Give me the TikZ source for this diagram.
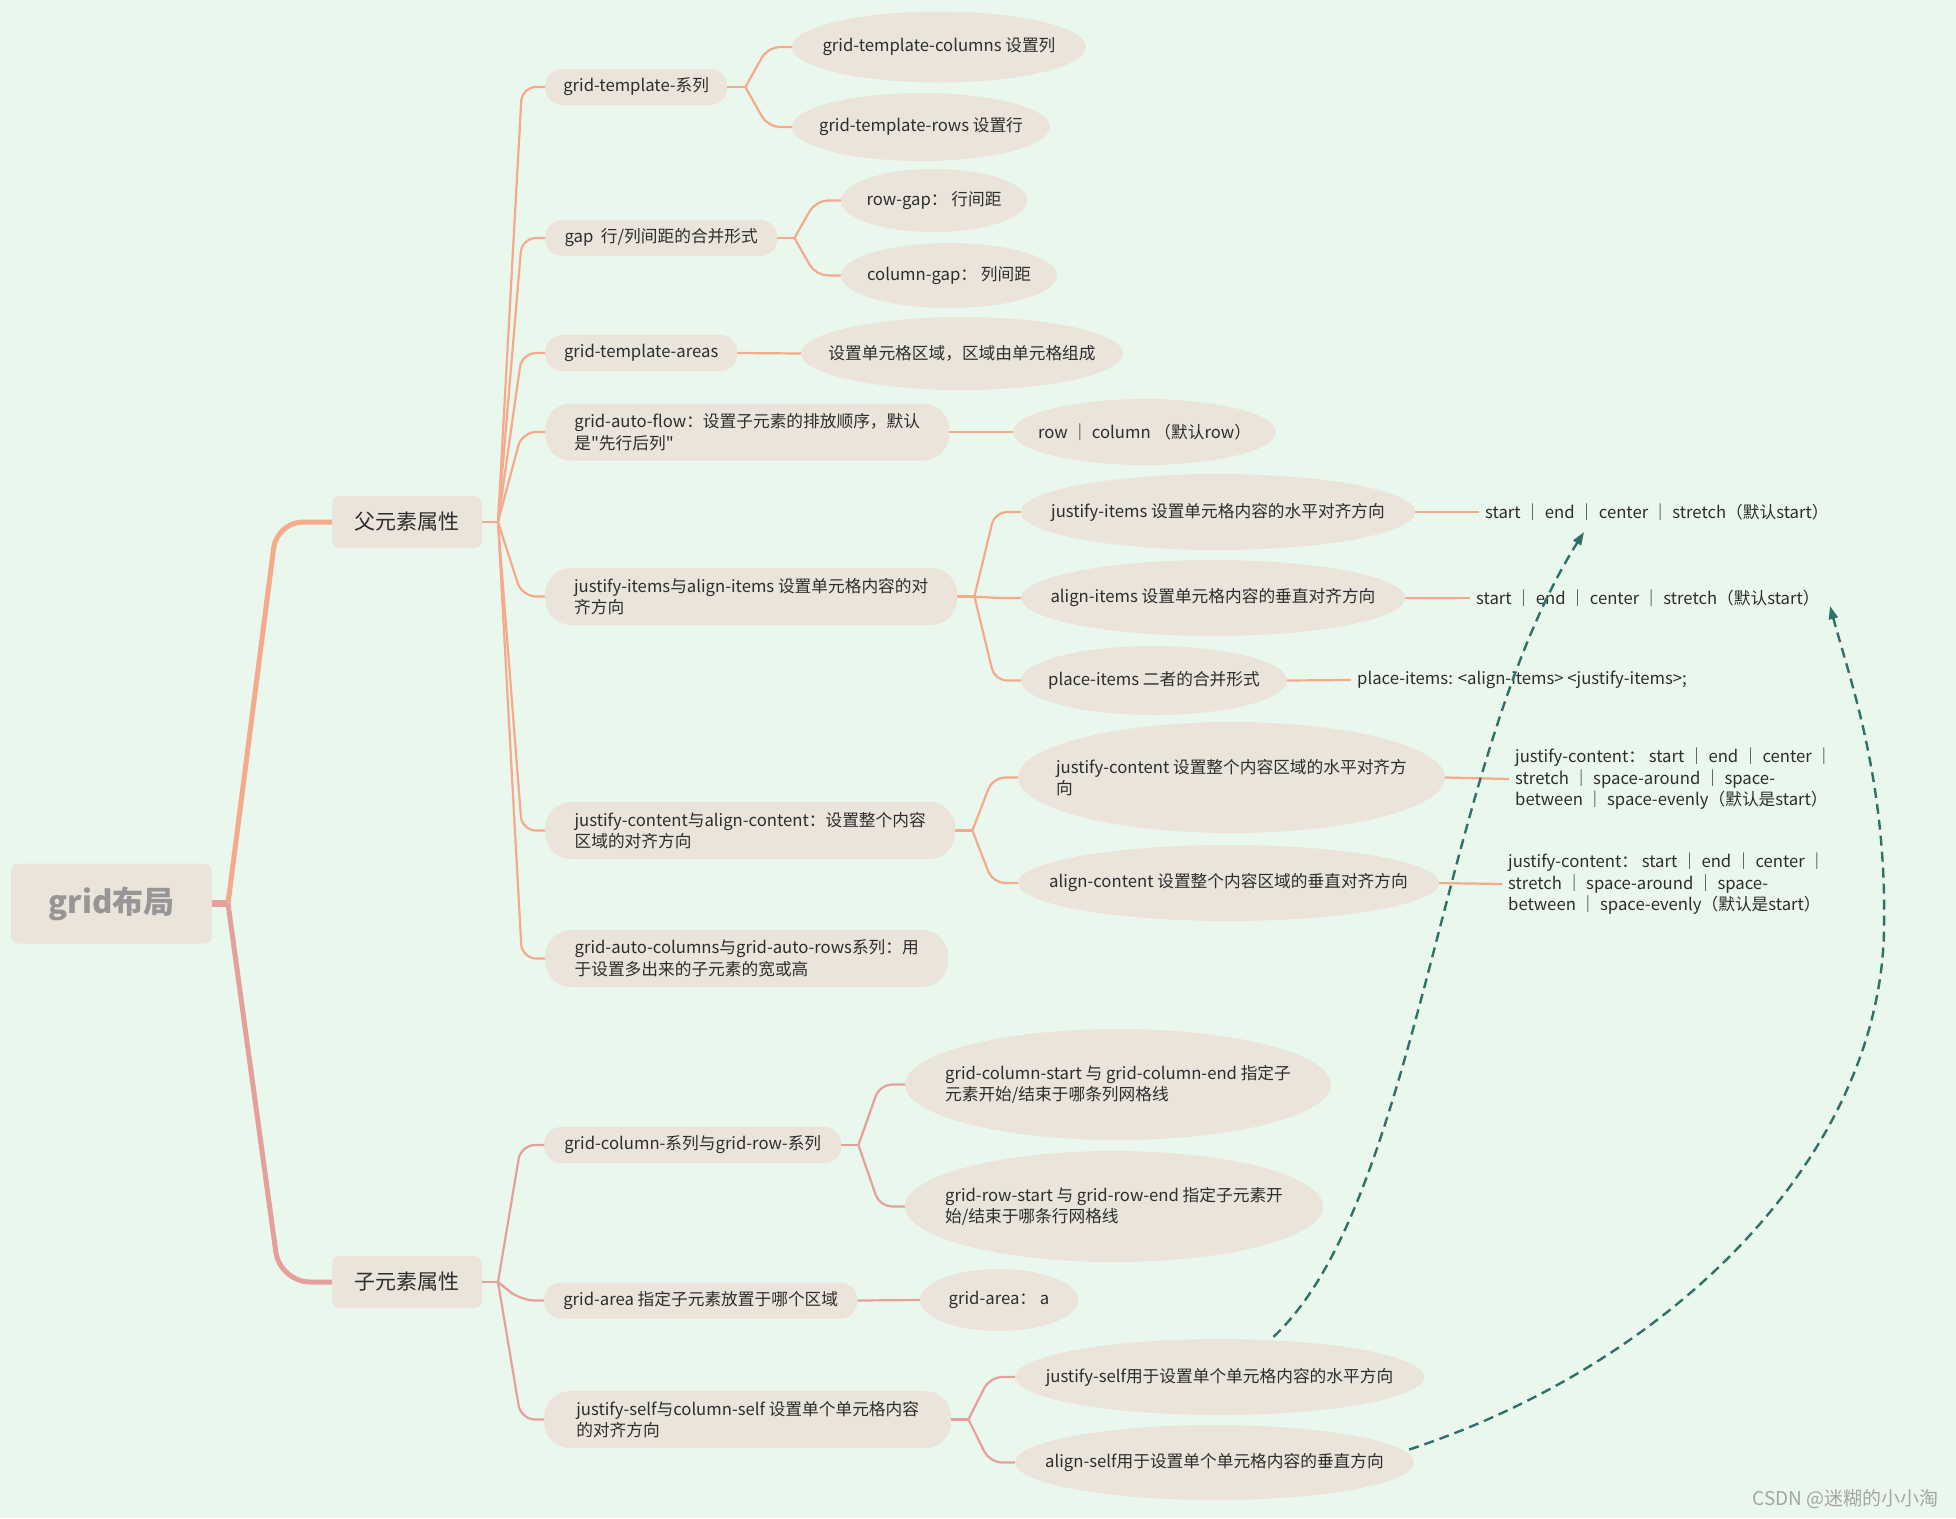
\documentclass[tikz,border=0pt]{standalone}
\usepackage{fontspec}
\setmainfont{Noto Sans CJK SC}[Ligatures=TeXOff]
\usetikzlibrary{shapes.geometric,arrows.meta}
\definecolor{bg}{RGB}{234,247,236}
\definecolor{nodefill}{RGB}{234,228,219}
\definecolor{lineA}{RGB}{245,170,140}
\definecolor{lineB}{RGB}{230,160,155}
\definecolor{dashc}{RGB}{47,112,106}
\definecolor{txt}{RGB}{45,45,45}
\definecolor{roottxt}{RGB}{150,150,150}
\definecolor{wmc}{RGB}{165,165,165}
\newcommand\mmf{\fontsize{16.7}{21.5}\selectfont}
\begin{document}
\begin{tikzpicture}[x=1pt,y=-1pt,
  every node/.style={text=txt},
  box/.style={fill=nodefill, inner sep=0pt},
  pill/.style={box, anchor=west, rounded corners=17pt, minimum height=36pt, font=\mmf},
  pilltwo/.style={box, anchor=west, rounded corners=26pt, minimum height=57pt, font=\mmf, align=left},
  ell/.style={ellipse, fill=nodefill, inner sep=0pt},
  lbl/.style={font=\mmf, align=left, inner sep=0pt},
  rtext/.style={font=\mmf, align=left, anchor=west, inner xsep=6pt, inner ysep=0pt},
  cA/.style={draw=lineA, line width=2.2pt, rounded corners=14pt},
  cB/.style={draw=lineB, line width=2.2pt, rounded corners=14pt},
  dsh/.style={draw=dashc, line width=2.4pt, dash pattern=on 10pt off 6pt, -{Triangle[length=13pt,width=9pt]}}
]
\fill[bg] (0,0) rectangle (1956,1518);
\useasboundingbox (0,0) rectangle (1956,1518);

% root and main branches
\node[box, rounded corners=8pt, minimum width=201pt, minimum height=80pt,
      font=\fontsize{31}{31}\selectfont\bfseries, text=roottxt] (root) at (111.5,903.5) {grid布局};
\node[box, rounded corners=8pt, minimum width=150pt, minimum height=52pt,
      font=\fontsize{21}{21}\selectfont] (p) at (407,522) {父元素属性};
\node[box, rounded corners=8pt, minimum width=150pt, minimum height=52pt,
      font=\fontsize{21}{21}\selectfont] (c) at (407,1282) {子元素属性};

% parent children
\node[pill, minimum width=182pt] (gt) at (545,87) {grid-template-系列};
\node[pill, minimum width=232pt] (gap) at (545,238) {gap\ \ 行/列间距的合并形式};
\node[pill, minimum width=192pt] (gta) at (545,353) {grid-template-areas};
\node[pilltwo, minimum width=404pt] (gaf) at (545,432) {grid-auto-flow：设置子元素的排放顺序，默认\\是"先行后列"};
\node[pilltwo, minimum width=412pt] (ji) at (545,596.5) {justify-items与align-items 设置单元格内容的对\\齐方向};
\node[pilltwo, minimum width=410pt] (jc) at (545,830.5) {justify-content与align-content：设置整个内容\\区域的对齐方向};
\node[pilltwo, minimum width=403pt] (gac) at (545,958.5) {grid-auto-columns与grid-auto-rows系列：用\\于设置多出来的子元素的宽或高};

% parent grandchildren
\node[ell, minimum width=294pt, minimum height=71pt] (gtc) at (939,47) {};
\node[lbl] (gtc-t) at (gtc) {grid-template-columns 设置列};
\node[ell, minimum width=258pt, minimum height=68pt] (gtr) at (921,127) {};
\node[lbl] (gtr-t) at (gtr) {grid-template-rows 设置行};
\node[ell, minimum width=186pt, minimum height=63pt] (rg) at (934,200.5) {};
\node[lbl] (rg-t) at (rg) {row-gap： 行间距};
\node[ell, minimum width=216pt, minimum height=65pt] (cg) at (949,275.5) {};
\node[lbl] (cg-t) at (cg) {column-gap： 列间距};
\node[ell, minimum width=322pt, minimum height=73pt] (gtaa) at (962,353.5) {};
\node[lbl] (gtaa-t) at (gtaa) {设置单元格区域，区域由单元格组成};
\node[ell, minimum width=263pt, minimum height=66pt] (gafa) at (1144.5,432) {};
\node[lbl] (gafa-t) at (gafa) {row ｜ column （默认row）};
\node[ell, minimum width=394pt, minimum height=76pt] (jia) at (1218,512) {};
\node[lbl] (jia-t) at (jia) {justify-items 设置单元格内容的水平对齐方向};
\node[ell, minimum width=384pt, minimum height=76pt] (aia) at (1213,598) {};
\node[lbl] (aia-t) at (aia) {align-items 设置单元格内容的垂直对齐方向};
\node[ell, minimum width=266pt, minimum height=69pt] (pia) at (1154,680.5) {};
\node[lbl] (pia-t) at (pia) {place-items 二者的合并形式};
\node[ell, minimum width=427pt, minimum height=111pt] (jca) at (1231.5,777.5) {};
\node[lbl] (jca-t) at (jca) {justify-content 设置整个内容区域的水平对齐方\\向};
\node[ell, minimum width=421pt, minimum height=76pt] (aca) at (1228.5,883) {};
\node[lbl] (aca-t) at (aca) {align-content 设置整个内容区域的垂直对齐方向};

% right texts
\node[rtext] (jit) at (1479,512) {start ｜ end ｜ center ｜ stretch（默认start）};
\node[rtext] (ait) at (1470,598) {start ｜ end ｜ center ｜ stretch（默认start）};
\node[rtext] (pit) at (1351,680) {place-items: <align-items> <justify-items>;};
\node[rtext] (jct) at (1509,779) {justify-content： start ｜ end ｜ center ｜\\stretch ｜ space-around ｜ space-\\between ｜ space-evenly（默认是start）};
\node[rtext] (act) at (1502,884) {justify-content： start ｜ end ｜ center ｜\\stretch ｜ space-around ｜ space-\\between ｜ space-evenly（默认是start）};

% child children
\node[pill, minimum width=297pt] (gcr) at (544,1145) {grid-column-系列与grid-row-系列};
\node[pill, minimum width=313pt] (ga) at (544,1300.5) {grid-area 指定子元素放置于哪个区域};
\node[pilltwo, minimum width=407pt] (js) at (544,1419.5) {justify-self与column-self 设置单个单元格内容\\的对齐方向};

% child grandchildren
\node[ell, minimum width=426pt, minimum height=111pt] (gcs) at (1118,1084.5) {};
\node[lbl] (gcs-t) at (gcs) {grid-column-start 与 grid-column-end 指定子\\元素开始/结束于哪条列网格线};
\node[ell, minimum width=418pt, minimum height=111pt] (grs) at (1114,1206.5) {};
\node[lbl] (grs-t) at (grs) {grid-row-start 与 grid-row-end 指定子元素开\\始/结束于哪条行网格线};
\node[ell, minimum width=158pt, minimum height=62pt] (gaa) at (999,1300) {};
\node[lbl] (gaa-t) at (gaa) {grid-area： a};
\node[ell, minimum width=409pt, minimum height=76pt] (jsa) at (1219.5,1377) {};
\node[lbl] (jsa-t) at (jsa) {justify-self用于设置单个单元格内容的水平方向};
\node[ell, minimum width=399pt, minimum height=75pt] (asa) at (1214.5,1462.5) {};
\node[lbl] (asa-t) at (asa) {align-self用于设置单个单元格内容的垂直方向};

% trunk
\coordinate (rj) at (228,903.5);
\draw[line width=7pt, lineB] (root.east) -- (rj);
\draw[line width=5pt, lineA, rounded corners=26pt] (rj) -- (277,522) -- (p.west);
\draw[line width=5pt, lineB, rounded corners=30pt] (rj) -- (280,1282) -- (c.west);

% parent connectors
\coordinate (pj) at (498,522);
\draw[cA] (p.east) -- (pj);
\foreach \n in {gt,gap,gta,gaf,ji,jc,gac} \draw[cA] (pj) -- ([xshift=-23pt]\n.west) -- (\n.west);

\coordinate (gtj) at ([xshift=18pt]gt.east);
\draw[cA] (gt.east) -- (gtj);
\foreach \n in {gtc,gtr} \draw[cA, rounded corners=12pt] (gtj) -- ([xshift=-24pt]\n.west) -- (\n.west);

\coordinate (gapj) at ([xshift=17pt]gap.east);
\draw[cA] (gap.east) -- (gapj);
\foreach \n in {rg,cg} \draw[cA, rounded corners=12pt] (gapj) -- ([xshift=-25pt]\n.west) -- (\n.west);

\draw[cA] (gta.east) -- (gtaa.west);
\draw[cA] (gaf.east) -- (gafa.west);

\coordinate (jij) at ([xshift=17pt]ji.east);
\draw[cA] (ji.east) -- (jij);
\foreach \n in {jia,aia,pia} \draw[cA, rounded corners=12pt] (jij) -- ([xshift=-26pt]\n.west) -- (\n.west);

\coordinate (jcj) at ([xshift=17pt]jc.east);
\draw[cA] (jc.east) -- (jcj);
\foreach \n in {jca,aca} \draw[cA, rounded corners=12pt] (jcj) -- ([xshift=-25pt]\n.west) -- (\n.west);

\draw[cA] (jia.east) -- (jit.west);
\draw[cA] (aia.east) -- (ait.west);
\draw[cA] (pia.east) -- (pit.west);
\draw[cA] (jca.east) -- (jct.west);
\draw[cA] (aca.east) -- (act.west);

% child connectors
\coordinate (cj) at (498,1282);
\draw[cB] (c.east) -- (cj);
\foreach \n in {gcr,ga,js} \draw[cB] (cj) -- ([xshift=-23pt]\n.west) -- (\n.west);

\coordinate (gcrj) at ([xshift=17pt]gcr.east);
\draw[cB] (gcr.east) -- (gcrj);
\foreach \n in {gcs,grs} \draw[cB, rounded corners=12pt] (gcrj) -- ([xshift=-25pt]\n.west) -- (\n.west);

\draw[cB] (ga.east) -- (gaa.west);

\coordinate (jsj) at ([xshift=17pt]js.east);
\draw[cB] (js.east) -- (jsj);
\foreach \n in {jsa,asa} \draw[cB, rounded corners=12pt] (jsj) -- ([xshift=-25pt]\n.west) -- (\n.west);

% dashed arrows
\coordinate (a1s) at ([xshift=54pt,yshift=2pt]jsa.north);
\coordinate (a1e) at (1584,532);
\draw[dsh] (a1s) .. controls (1420,1200) and (1440,760) .. (a1e);
\coordinate (a2s) at ([xshift=-5pt,yshift=13pt]asa.east);
\coordinate (a2m) at (1884,930);
\coordinate (a2e) at (1830,606);
\draw[dsh] (a2s) .. controls (1680,1360) and (1880,1150) .. (a2m) .. controls (1887,780) and (1850,680) .. (a2e);

% watermark
\node[anchor=east, font=\fontsize{19}{19}\selectfont, text=wmc] (wm) at (1942,1499) {CSDN @迷糊的小小淘};
\end{tikzpicture}
\end{document}
